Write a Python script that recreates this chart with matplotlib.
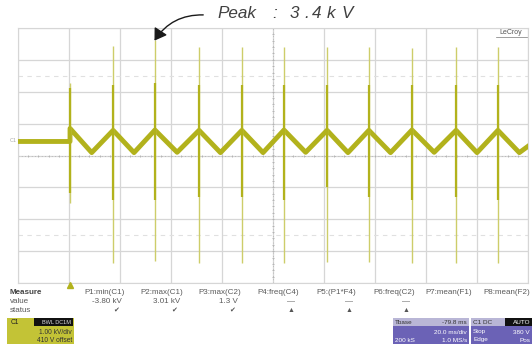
import matplotlib.pyplot as plt
import numpy as np
from matplotlib.patches import Rectangle

W, H = 532, 345

TRACE = '#b2b21c'
SPIKE_FAINT = '#cdcd6a'
GRID = '#d6d6d6'
TXT = '#5a5a5a'
FAM = ['Liberation Sans', 'DejaVu Sans']

# time in ms (20 ms/div), voltage in kV (1.00 kV/div, 410 V offset)
OFFSET_KV = 0.41

base_t = [0.0, 20.4]
base_v = [0.03, 0.03]

peak_t = [20.4, 37.3, 53.7, 71.0, 87.8, 104.3, 121.2, 137.6, 154.5, 171.8, 188.2]
peak_v = [0.44, 0.38, 0.39, 0.38, 0.38, 0.39, 0.38, 0.38, 0.39, 0.38, 0.38]

trough_t = [28.9, 45.5, 62.4, 79.4, 96.1, 112.8, 129.4, 146.1, 163.2, 180.0, 196.6]
trough_v = [-0.32, -0.32, -0.31, -0.32, -0.32, -0.31, -0.32, -0.32, -0.31, -0.32, -0.32]

end_t = [200.0]
end_v = [-0.12]

spike_top = [1.86, 3.02, 3.21, 2.99, 2.99, 3.00, 3.00, 2.99, 2.97, 3.00, 3.00]
spike_bot = [-1.89, -3.78, -3.72, -3.78, -3.78, -3.78, -3.75, -3.75, -3.78, -3.78, -3.78]
core_top = [1.70, 1.80, 1.85, 1.80, 1.80, 1.80, 1.80, 1.80, 1.80, 1.80, 1.80]
core_bot = [-1.60, -1.80, -1.80, -1.70, -1.70, -1.80, -1.40, -1.70, -1.80, -1.70, -1.80]

meas_names = ['P1:min(C1)', 'P2:max(C1)', 'P3:max(C2)', 'P4:freq(C4)',
              'P5:(P1*F4)', 'P6:freq(C2)', 'P7:mean(F1)', 'P8:mean(F2)']
meas_values = ['-3.80 kV', '3.01 kV', '1.3 V', '\u2014', '\u2014', '\u2014', '', '']
meas_status = ['\u2714', '\u2714', '\u2714', '\u25b2', '\u25b2', '\u25b2', '', '']


fig = plt.figure(figsize=(W / 100, H / 100), dpi=100)
fig.patch.set_facecolor('white')

ax = fig.add_axes([18 / W, 1 - 283 / H, 510 / W, 255 / H])
ax.set_xlim(0, 200)
ax.set_ylim(-4, 4)
ax.set_xticks(np.arange(0, 201, 20))
ax.set_yticks(np.arange(-4, 5, 1))
ax.grid(True, color=GRID, lw=0.9)
ax.set_axisbelow(True)
ax.tick_params(length=0, labelbottom=False, labelleft=False)
for s in ax.spines.values():
    s.set_color(GRID)

# graticule centre lines with small ticks, and faint cursor lines
ax.axhline(0, color='#b0b0b0', lw=0.6, ls=(0, (1, 3)))
ax.axvline(100, color='#b0b0b0', lw=0.6, ls=(0, (1, 3)))
ax.plot(np.arange(0, 200.1, 4), np.zeros(51), '|', ms=2, color='#b0b0b0', mew=0.6)
ax.plot(np.full(41, 100.0), np.arange(-4, 4.01, 0.2), '_', ms=2, color='#b0b0b0', mew=0.6)
for yy in (2.5, -2.5):
    ax.axhline(yy, color='#e0e0e0', lw=0.8, ls=(0, (4, 4)))

# trace
t = np.array(base_t + peak_t + trough_t + end_t)
v = np.array(base_v + peak_v + trough_v + end_v)
order = np.argsort(t, kind='stable')
ax.plot(t[order], v[order] + OFFSET_KV, color=TRACE, lw=3.5,
        solid_joinstyle='round', zorder=3)

spk_t = np.array(peak_t)
ax.vlines(spk_t, np.array(spike_bot) + OFFSET_KV, np.array(spike_top) + OFFSET_KV,
          color=SPIKE_FAINT, lw=1.0, zorder=4)
ax.vlines(spk_t, np.array(core_bot) + OFFSET_KV, np.array(core_top) + OFFSET_KV,
          color=TRACE, lw=1.6, zorder=4)

# overlay in pixel coordinates for annotation and the scope readouts
ov = fig.add_axes([0, 0, 1, 1])
ov.set_xlim(0, W)
ov.set_ylim(H, 0)
ov.axis('off')

# widely spaced italic label: pieces placed at their pixel columns
label_pieces = [('Peak', 217), (':', 272), ('3', 290), ('.', 304),
                ('4', 312), ('k', 327), ('V', 342)]
for piece, px in label_pieces:
    ov.text(px, 13.5, piece, ha='left', va='center', fontsize=12.3,
            style='italic', color='#404040', family='Liberation Sans')

ov.annotate('', xy=(153, 43), xytext=(206, 15),
            arrowprops=dict(arrowstyle='-|>,head_length=0.7,head_width=0.45',
                            connectionstyle='arc3,rad=0.3', color='#1a1a1a', lw=1.0))

ov.text(511, 33, 'LeCroy', ha='center', va='center', fontsize=5, color='#555555', family=FAM)
ov.plot([496, 527], [37, 37], color='#777777', lw=0.5)

ov.text(13, 141, 'C1', ha='center', va='center', fontsize=4, color='#aaaaaa', family=FAM)
ov.plot([70], [285], marker='^', ms=4, color=TRACE)

# measurement table
ov.text(10, 293, 'Measure', ha='left', va='center', fontsize=5.8, weight='bold', color='#444444', family=FAM)
ov.text(10, 301.5, 'value', ha='left', va='center', fontsize=5.8, color=TXT, family=FAM)
ov.text(10, 310, 'status', ha='left', va='center', fontsize=5.8, color=TXT, family=FAM)
for i, name in enumerate(meas_names):
    xr = 125 + 57.9 * i
    ov.text(xr, 293, name, ha='right', va='center', fontsize=5.8, color=TXT, family=FAM)
    if i < 3:
        ov.text(xr - 3, 301.5, meas_values[i], ha='right', va='center', fontsize=5.8,
                color=TXT, family=FAM)
        ov.text(xr - 6, 310, meas_status[i], ha='right', va='center', fontsize=5,
                color='#555555', family=FAM)
    elif meas_values[i]:
        ov.text(xr - 8, 301.5, meas_values[i], ha='center', va='center', fontsize=5.8,
                color=TXT, family=FAM)
        ov.text(xr - 8, 310, meas_status[i], ha='center', va='center', fontsize=5,
                color='#555555', family=FAM)

# channel box
ov.add_patch(Rectangle((7, 318), 67, 26, facecolor='#c3c336', edgecolor='none'))
ov.add_patch(Rectangle((34, 318), 39, 8, facecolor='#111111', edgecolor='none'))
ov.text(11, 322, 'C1', ha='left', va='center', fontsize=4.8, color='#222222', family=FAM)
ov.text(71, 322, 'BWL DC1M', ha='right', va='center', fontsize=4, color='#dddddd', family=FAM)
ov.text(72, 332, '1.00 kV/div', ha='right', va='center', fontsize=4.8, color='#333333', family=FAM)
ov.text(72, 340, '410 V offset', ha='right', va='center', fontsize=4.8, color='#333333', family=FAM)

# timebase box
ov.add_patch(Rectangle((393, 318), 76, 8, facecolor='#b9b6d6', edgecolor='none'))
ov.add_patch(Rectangle((393, 326), 76, 18, facecolor='#6b62b6', edgecolor='none'))
ov.text(395, 322, 'Tbase', ha='left', va='center', fontsize=4.6, color='#333333', family=FAM)
ov.text(467, 322, '-79.8 ms', ha='right', va='center', fontsize=4.6, color='#333333', family=FAM)
ov.text(467, 332, '20.0 ms/div', ha='right', va='center', fontsize=4.6, color='white', family=FAM)
ov.text(395, 340, '200 kS', ha='left', va='center', fontsize=4.6, color='white', family=FAM)
ov.text(467, 340, '1.0 MS/s', ha='right', va='center', fontsize=4.6, color='white', family=FAM)

# trigger box
ov.add_patch(Rectangle((471, 318), 61, 8, facecolor='#b9b6d6', edgecolor='none'))
ov.add_patch(Rectangle((505, 318), 27, 8, facecolor='#111111', edgecolor='none'))
ov.add_patch(Rectangle((471, 326), 61, 18, facecolor='#6b62b6', edgecolor='none'))
ov.text(473, 322, 'C1 DC', ha='left', va='center', fontsize=4.6, color='#333333', family=FAM)
ov.text(530, 322, 'AUTO', ha='right', va='center', fontsize=4.6, color='white', family=FAM)
ov.text(473, 332, 'Stop', ha='left', va='center', fontsize=4.6, color='white', family=FAM)
ov.text(530, 332, '380 V', ha='right', va='center', fontsize=4.6, color='white', family=FAM)
ov.text(473, 340, 'Edge', ha='left', va='center', fontsize=4.6, color='white', family=FAM)
ov.text(530, 340, 'Pos', ha='right', va='center', fontsize=4.6, color='white', family=FAM)

fig.savefig('out.png', dpi=100)
